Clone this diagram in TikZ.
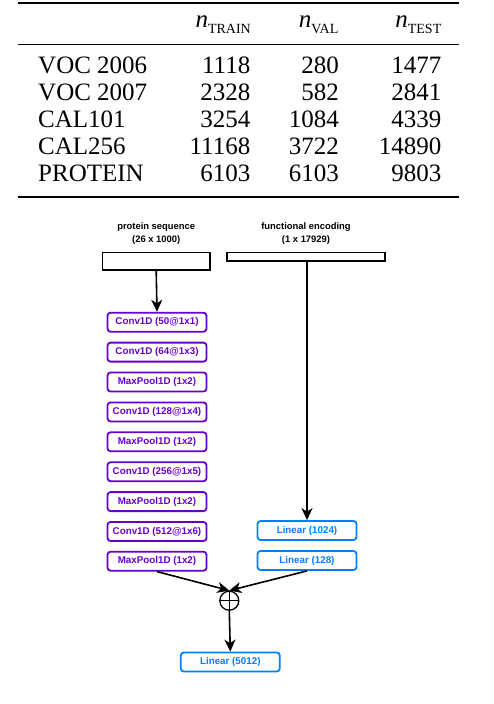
\documentclass[tikz,border=0pt]{standalone}
\usepackage{fontspec}
\setmainfont{Liberation Serif}
\newfontfamily\hel{Liberation Sans}
\usetikzlibrary{arrows.meta}
\definecolor{purp}{HTML}{6600CC}
\definecolor{lblue}{HTML}{007FFF}
\tikzset{
  tab/.style={inner sep=0pt, font=\fontsize{25}{30}\selectfont},
  hdr/.style={inner sep=0pt, anchor=base east, font=\fontsize{25}{30}\selectfont},
  layer/.style={draw=purp, text=purp, line width=1.8pt, rounded corners=3pt,
    minimum width=99pt, minimum height=19pt, inner sep=0pt,
    font=\hel\bfseries\fontsize{9.8}{10}\selectfont},
  dense/.style={layer, draw=lblue, text=lblue},
  inbox/.style={draw, line width=1.5pt, inner sep=0pt},
  lbl/.style={inner sep=0pt, align=center, font=\hel\bfseries\fontsize{9.4}{13.5}\selectfont},
  arr/.style={line width=1.6pt, -{Stealth[length=12pt,width=11pt,inset=3.5pt]}},
  plain/.style={line width=1.6pt}
}
\newcommand{\sub}[1]{\raisebox{-5.5pt}{\fontsize{14}{14}\selectfont #1}}
\begin{document}
\begin{tikzpicture}[x=1pt,y=-1pt]
\useasboundingbox (0,0) rectangle (494,704);
% ---------- table ----------
\coordinate (tl) at (18,3);
\coordinate (tr) at (459,3);
\coordinate (ml) at (18,44.5);
\coordinate (mr) at (459,44.5);
\coordinate (bl) at (18,197.3);
\coordinate (br) at (459,197.3);
\draw[line width=2.2pt] (tl) -- (tr);
\draw[line width=1.3pt] (ml) -- (mr);
\draw[line width=2.2pt] (bl) -- (br);
\node[hdr] (h1) at (251,27.5) {\textit{n}\sub{TRAIN}};
\node[hdr] (h2) at (338.5,27.5) {\textit{n}\sub{VAL}};
\node[hdr] (h3) at (441.5,27.5) {\textit{n}\sub{TEST}};
\foreach \name/\a/\b/\c [count=\i from 0] in
  {VOC 2006/1118/280/1477, VOC 2007/2328/582/2841, CAL101/3254/1084/4339,
   CAL256/11168/3722/14890, PROTEIN/6103/6103/9803}{
  \pgfmathsetmacro{\yy}{73.3+27.1*\i}
  \node[tab, anchor=base west] (r\i) at (38,\yy) {\name};
  \node[tab, anchor=base east] (a\i) at (250.5,\yy) {\a};
  \node[tab, anchor=base east] (b\i) at (339,\yy) {\b};
  \node[tab, anchor=base east] (c\i) at (441.5,\yy) {\c};
}
% ---------- diagram ----------
\node[lbl] (ltxt) at (156.2,233.5) {protein sequence\\(26 x 1000)};
\node[lbl] (rtxt) at (306,233.5) {functional encoding\\(1 x 17929)};
\node[inbox, minimum width=107.5pt, minimum height=17.8pt] (pin) at (156.2,261.3) {};
\node[inbox, minimum width=158.2pt, minimum height=8.5pt] (fin) at (305.9,256.7) {};
\node[layer] (l1) at (157,322.2) {Conv1D (50@1x1)};
\node[layer] (l2) at (157,352.1) {Conv1D (64@1x3)};
\node[layer] (l3) at (157,382) {MaxPool1D (1x2)};
\node[layer] (l4) at (157,411.9) {Conv1D (128@1x4)};
\node[layer] (l5) at (157,441.8) {MaxPool1D (1x2)};
\node[layer] (l6) at (157,471.7) {Conv1D (256@1x5)};
\node[layer] (l7) at (157,501.6) {MaxPool1D (1x2)};
\node[layer] (l8) at (157,531.5) {Conv1D (512@1x6)};
\node[layer] (l9) at (157,561.2) {MaxPool1D (1x2)};
\node[dense] (d1) at (307,530.5) {Linear (1024)};
\node[dense] (d2) at (307,560.5) {Linear (128)};
\node[circle, draw, line width=1.3pt, minimum size=19pt, inner sep=0pt] (sum) at (229.3,600.7) {};
\draw[line width=1.3pt] (sum.north) -- (sum.south);
\draw[line width=1.3pt] (sum.west) -- (sum.east);
\node[dense] (out) at (230.3,662) {Linear (5012)};
\draw[arr] (pin.south) -- (l1.north);
\draw[arr] (fin.south -| d1.north) -- (d1.north);
\draw[arr] (l9.south) -- (sum.north);
\draw[arr] (d2.south) -- (sum.north);
\draw[arr] (sum.south) -- (out.north);
\end{tikzpicture}
\end{document}
